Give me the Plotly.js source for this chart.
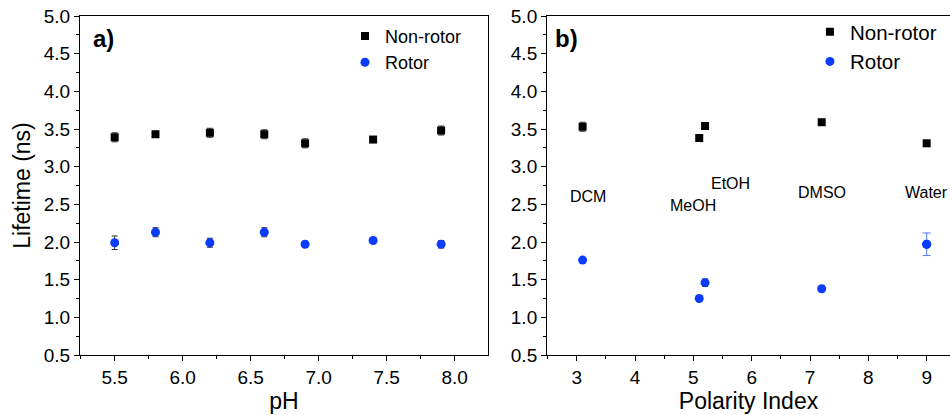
<!DOCTYPE html>
<html>
<head>
<meta charset="utf-8">
<script src="https://cdn.plot.ly/plotly-3.0.1.min.js"></script>
<style>html,body{margin:0;padding:0;background:#fff;}#chart{width:950px;height:415px;}</style>
</head>
<body>
<div id="chart"></div>
<script>
// Panel a) lifetime vs pH
const pH = [5.5, 5.8, 6.2, 6.6, 6.9, 7.4, 7.9];
const nonRotorPH = [3.39, 3.43, 3.45, 3.43, 3.31, 3.36, 3.48];
const nonRotorPHErr = [0.06, 0.04, 0.06, 0.06, 0.06, 0.04, 0.06];
const rotorPH = [1.99, 2.13, 1.99, 2.13, 1.97, 2.02, 1.97];
const rotorPHErr = [0.09, 0.06, 0.06, 0.06, 0.04, 0.04, 0.05];

// Panel b) lifetime vs polarity index
const solvNames = ["DCM", "MeOH", "EtOH", "DMSO", "Water"];
const polarity = [3.1, 5.1, 5.2, 7.2, 9.0];
const nonRotorSolv = [3.53, 3.38, 3.54, 3.59, 3.31];
const nonRotorSolvErr = [0.06, 0.04, 0.02, 0.02, 0.04];
const rotorSolv = [1.76, 1.25, 1.46, 1.38, 1.97];
const rotorSolvErr = [0.02, 0.04, 0.05, 0.04, 0.15];
const labelX = [3.2, 5.0, 5.63, 7.21, 9.0];
const labelY = [2.61, 2.48, 2.77, 2.66, 2.66];

const BLUE = '#0a3cff';
const ERRC = '#333333';
const FONT = 'Liberation Sans, Arial, sans-serif';

const waterIdx = solvNames.indexOf('Water');

const traces = [
  {x: pH, y: nonRotorPH, type: 'scatter', mode: 'markers', name: 'Non-rotor',
   marker: {symbol: 'square', size: 8, color: '#000'},
   error_y: {type: 'data', array: nonRotorPHErr, visible: true, color: ERRC, thickness: 1, width: 3},
   xaxis: 'x', yaxis: 'y', legend: 'legend'},
  {x: pH, y: rotorPH, type: 'scatter', mode: 'markers', name: 'Rotor',
   marker: {symbol: 'circle', size: 9, color: BLUE},
   error_y: {type: 'data', array: rotorPHErr, visible: true, color: ERRC, thickness: 1, width: 3},
   xaxis: 'x', yaxis: 'y', legend: 'legend'},
  {x: polarity, y: nonRotorSolv, type: 'scatter', mode: 'markers', name: 'Non-rotor',
   marker: {symbol: 'square', size: 8, color: '#000'},
   error_y: {type: 'data', array: nonRotorSolvErr, visible: true, color: ERRC, thickness: 1, width: 3},
   xaxis: 'x2', yaxis: 'y2', legend: 'legend2'},
  {x: polarity, y: rotorSolv, type: 'scatter', mode: 'markers', name: 'Rotor',
   marker: {symbol: 'circle', size: 9, color: BLUE},
   error_y: {type: 'data', array: rotorSolvErr.map((e, i) => i === waterIdx ? 0 : e), visible: true, color: ERRC, thickness: 1, width: 3},
   xaxis: 'x2', yaxis: 'y2', legend: 'legend2'},
  {x: [polarity[waterIdx]], y: [rotorSolv[waterIdx]], type: 'scatter', mode: 'markers', showlegend: false,
   marker: {symbol: 'circle', size: 9, color: BLUE},
   error_y: {type: 'data', array: [rotorSolvErr[waterIdx]], visible: true, color: '#5577ff', thickness: 1, width: 4},
   xaxis: 'x2', yaxis: 'y2'}
];

const axBase = {
  showline: true, linecolor: '#000', linewidth: 1, mirror: true,
  ticks: 'outside', ticklen: 5, tickwidth: 1, tickcolor: '#000',
  showgrid: false, zeroline: false,
  tickfont: {family: FONT, size: 19, color: '#000'}
};
const titleFont = {family: FONT, size: 23, color: '#000'};

const annots = solvNames.map((n, i) => ({
  x: labelX[i], y: labelY[i], xref: 'x2', yref: 'y2', text: n, showarrow: false,
  font: {family: FONT, size: 16, color: '#000'}
}));
annots.push({x: 0.005, y: 0.935, xref: 'paper', yref: 'paper', xanchor: 'left', yanchor: 'middle', text: '<b>a)</b>', showarrow: false,
  font: {family: FONT, size: 24, color: '#000'}, xshift: 7});
annots.push({x: 0.5368, y: 0.935, xref: 'paper', yref: 'paper', xanchor: 'left', yanchor: 'middle', text: '<b>b)</b>', showarrow: false,
  font: {family: FONT, size: 24, color: '#000'}, xshift: 6});

const layout = {
  width: 950, height: 415,
  margin: {l: 80, r: 0, t: 16, b: 60},
  paper_bgcolor: '#fff', plot_bgcolor: '#fff',
  font: {family: FONT, color: '#000'},
  xaxis: Object.assign({}, axBase, {domain: [0, 0.469], range: [5.245, 8.245], dtick: 0.5, tick0: 5.5, tickformat: '.1f',
    minor: {dtick: 0.25, tick0: 5.5, ticks: 'outside', ticklen: 3, tickcolor: '#000'},
    title: {text: 'pH', font: titleFont, standoff: 6}, anchor: 'y'}),
  yaxis: Object.assign({}, axBase, {domain: [0, 1], range: [0.5, 5.0], dtick: 0.5, tick0: 0.5, tickformat: '.1f',
    minor: {dtick: 0.25, ticks: 'outside', ticklen: 3, tickcolor: '#000'},
    title: {text: 'Lifetime (ns)', font: titleFont, standoff: 6}, anchor: 'x'}),
  xaxis2: Object.assign({}, axBase, {domain: [0.5368, 1], range: [2.49, 9.4], dtick: 1, tick0: 3,
    minor: {dtick: 0.5, ticks: 'outside', ticklen: 3, tickcolor: '#000'},
    title: {text: 'Polarity Index', font: titleFont, standoff: 6}, anchor: 'y2'}),
  yaxis2: Object.assign({}, axBase, {domain: [0, 1], range: [0.5, 5.0], dtick: 0.5, tick0: 0.5, tickformat: '.1f',
    minor: {dtick: 0.25, ticks: 'outside', ticklen: 3, tickcolor: '#000'}, anchor: 'x2'}),
  legend: {x: 0.3046, y: 0.995, xanchor: 'left', yanchor: 'top', bgcolor: 'rgba(0,0,0,0)',
    font: {family: FONT, size: 18, color: '#000'}, itemsizing: 'trace', tracegroupgap: 0},
  legend2: {x: 0.839, y: 1.012, xanchor: 'left', yanchor: 'top', bgcolor: 'rgba(0,0,0,0)',
    font: {family: FONT, size: 20.5, color: '#000'}, itemsizing: 'trace', tracegroupgap: 0},
  annotations: annots,
  showlegend: true
};

Plotly.newPlot('chart', traces, layout, {displayModeBar: false, staticPlot: true});
</script>
</body>
</html>
